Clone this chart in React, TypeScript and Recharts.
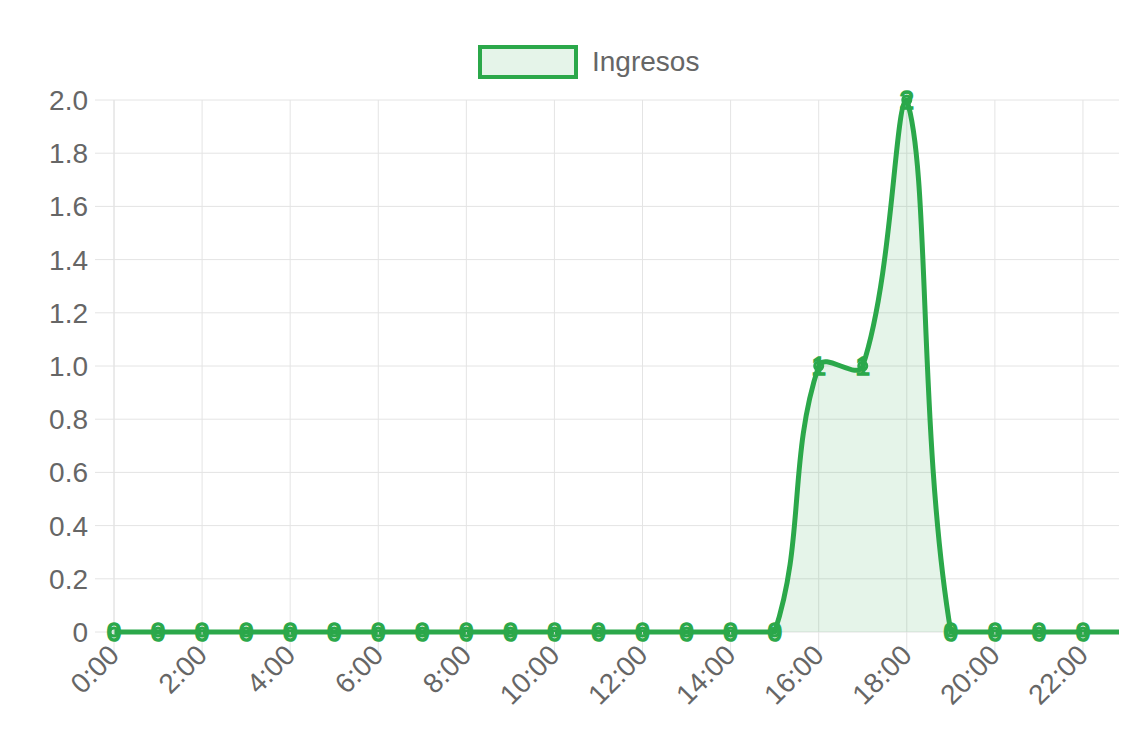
import React from "react";
import {
  Area,
  AreaChart,
  CartesianGrid,
  LabelList,
  XAxis,
  YAxis
} from "recharts";

const hours = [
  "0:00", "1:00", "2:00", "3:00", "4:00", "5:00", "6:00", "7:00",
  "8:00", "9:00", "10:00", "11:00", "12:00", "13:00", "14:00", "15:00",
  "16:00", "17:00", "18:00", "19:00", "20:00", "21:00", "22:00", "23:00"
];
const ingresos = [0, 0, 0, 0, 0, 0, 0, 0, 0, 0, 0, 0, 0, 0, 0, 0, 1, 1, 2, 0, 0, 0, 0, 0];
const yTicks = [0, 0.2, 0.4, 0.6, 0.8, 1.0, 1.2, 1.4, 1.6, 1.8, 2.0];

const GREEN = "#2ba84a";
const FILL = "rgba(43, 168, 74, 0.12)";
const GRID = "#e4e4e4";
const TEXT = "#666";
const FONT = "'Liberation Sans', Arial, Helvetica, sans-serif";

const data = hours.map((hour, i) => ({ hour, value: ingresos[i] }));

// Chart.js style spline (tension 0.4, control points kept inside the data range)
function splineCurve(tension: number) {
  return (context: any) => {
    let pts: [number, number][] = [];
    let line = NaN;
    return {
      areaStart() { line = 0; },
      areaEnd() { line = NaN; },
      lineStart() { pts = []; },
      lineEnd() {
        const n = pts.length;
        if (n) {
          const ys = pts.map((p) => p[1]);
          const minY = Math.min(...ys);
          const maxY = Math.max(...ys);
          const clampY = (v: number) => Math.min(maxY, Math.max(minY, v));
          const ctrl = pts.map((cur, i) => {
            const prev = pts[i - 1] || cur;
            const next = pts[i + 1] || cur;
            const d01 = Math.hypot(cur[0] - prev[0], cur[1] - prev[1]);
            const d12 = Math.hypot(next[0] - cur[0], next[1] - cur[1]);
            const s01 = d01 / (d01 + d12) || 0;
            const s12 = d12 / (d01 + d12) || 0;
            const fa = tension * s01;
            const fb = tension * s12;
            return {
              px: cur[0] - fa * (next[0] - prev[0]),
              py: clampY(cur[1] - fa * (next[1] - prev[1])),
              nx: cur[0] + fb * (next[0] - prev[0]),
              ny: clampY(cur[1] + fb * (next[1] - prev[1]))
            };
          });
          if (line) context.lineTo(pts[0][0], pts[0][1]);
          else context.moveTo(pts[0][0], pts[0][1]);
          for (let i = 1; i < n; i++) {
            context.bezierCurveTo(
              ctrl[i - 1].nx, ctrl[i - 1].ny,
              ctrl[i].px, ctrl[i].py,
              pts[i][0], pts[i][1]
            );
          }
        }
        if (line || (line !== 0 && n === 1)) context.closePath();
        line = 1 - line;
      },
      point(x: number, y: number) { pts.push([+x, +y]); }
    };
  };
}

const XTick = ({ x, y, payload }: any) => (
  <text
    x={x}
    y={y - 6}
    transform={`rotate(-45 ${x} ${y - 6})`}
    textAnchor="end"
    dominantBaseline="central"
    fill={TEXT}
    fontSize={28}
    fontFamily={FONT}
  >
    {payload.value}
  </text>
);

const PointLabel = ({ x, y, value }: any) => (
  <text
    x={x}
    y={y}
    textAnchor="middle"
    dominantBaseline="central"
    fill={GREEN}
    stroke={GREEN}
    strokeWidth={1.5}
    fontSize={26}
    fontFamily={FONT}
  >
    {value}
  </text>
);

export default function App() {
  return (
    <div style={{ position: "relative", width: 1119, height: 720, overflow: "hidden" }}>
      <div
        style={{
          position: "absolute",
          top: 37,
          left: 470,
          display: "flex",
          alignItems: "center",
          fontFamily: FONT,
          fontSize: 28,
          color: TEXT
        }}
      >
        <span
          style={{
            display: "inline-block",
            width: 92,
            height: 26,
            border: `4px solid ${GREEN}`,
            background: "rgba(43, 168, 74, 0.12)",
            marginRight: 14
          }}
        />
        <span>Ingresos</span>
      </div>
      <AreaChart
        width={1140}
        height={720}
        data={data}
        margin={{ top: 92, right: 21, bottom: 0, left: 0 }}
      >
        <CartesianGrid stroke={GRID} />
        <XAxis
          dataKey="hour"
          interval={1}
          height={96}
          tickSize={20}
          tickLine={{ stroke: GRID }}
          axisLine={false}
          tick={<XTick />}
          tickMargin={4}
        />
        <YAxis
          width={106}
          domain={[0, 2]}
          ticks={yTicks}
          tickSize={19}
          tickMargin={7}
          tickLine={{ stroke: GRID }}
          axisLine={{ stroke: GRID }}
          tickFormatter={(v: number) => (v === 0 ? "0" : v.toFixed(1))}
          tick={{ fill: TEXT, fontSize: 28, fontFamily: FONT }}
        />
        <Area
          type={splineCurve(0.4) as any}
          dataKey="value"
          stroke={GREEN}
          strokeWidth={5}
          fill={FILL}
          fillOpacity={1}
          dot={{ r: 4, stroke: GREEN, strokeWidth: 3, fill: FILL }}
          activeDot={false}
          isAnimationActive={false}
        >
          <LabelList dataKey="value" content={<PointLabel />} />
        </Area>
      </AreaChart>
    </div>
  );
}
